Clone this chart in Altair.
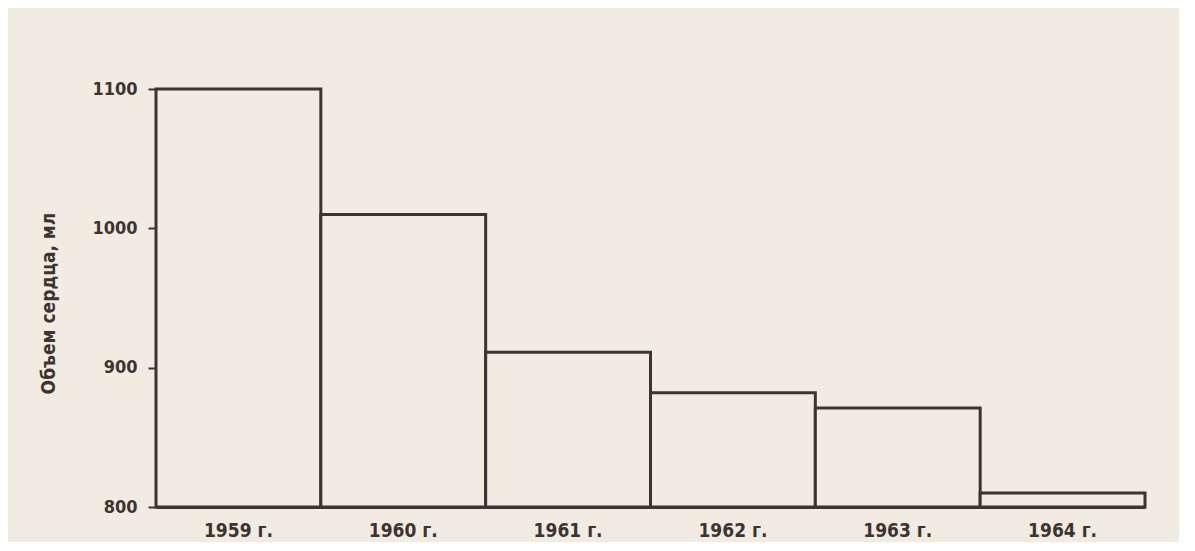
import altair as alt
import pandas as pd

years = ["1959 г.", "1960 г.", "1961 г.", "1962 г.", "1963 г.", "1964 г."]
volumes = [1100, 1010, 911, 882, 871, 810]
baseline = [800, 800, 800, 800, 800, 800]
y_ticks = [800, 900, 1000, 1100]

df = pd.DataFrame({"year": years, "volume": volumes, "base": baseline})

BG = "#f2ebe1"
INK = "#3b3433"
FONT = "DejaVu Sans Condensed, Liberation Sans Narrow, sans-serif"

chart = (
    alt.Chart(df)
    .mark_bar(fill=BG, stroke=INK, strokeWidth=3)
    .encode(
        x=alt.X(
            "year:N",
            sort=years,
            scale=alt.Scale(paddingInner=0, paddingOuter=0),
            axis=alt.Axis(
                title=None,
                labelAngle=0,
                ticks=False,
                labelPadding=14,
                labelFontSize=19,
                labelFontWeight="bold",
                labelFont=FONT,
                labelColor=INK,
                domainColor=INK,
                domainWidth=3,
            ),
        ),
        y=alt.Y(
            "volume:Q",
            scale=alt.Scale(domain=[800, 1100], zero=False, nice=False),
            axis=alt.Axis(
                values=y_ticks,
                format="d",
                title="Объем сердца, мл",
                titleFont=FONT,
                titleFontSize=19,
                titleFontWeight="bold",
                titleColor=INK,
                titleAngle=270,
                titleAlign="center",
                titleBaseline="middle",
                titleX=-108,
                titleY=214,
                grid=False,
                tickSize=8,
                tickWidth=2,
                tickColor=INK,
                labelPadding=11,
                labelFontSize=18,
                labelFontWeight="bold",
                labelFont=FONT,
                labelColor=INK,
                domainColor=INK,
                domainWidth=3,
            ),
        ),
        y2="base:Q",
    )
    .properties(
        width=989,
        height=418,
        background=BG,
        autosize=alt.AutoSizeParams(type="none"),
        padding={"left": 148, "top": 81, "right": 34, "bottom": 35},
    )
    .configure_view(stroke=None)
)

chart.save("out.html", embed_options={"renderer": "svg", "actions": False})
